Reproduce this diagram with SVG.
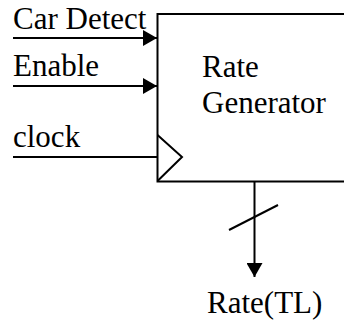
<svg xmlns="http://www.w3.org/2000/svg" width="344" height="328" viewBox="0 0 344 328">
<style>
text{font-family:"Liberation Serif","DejaVu Serif",serif;font-size:31px;fill:#000}
.ln{stroke:#000;stroke-width:2;fill:none}
</style>
<defs>
<marker id="ah" markerWidth="14" markerHeight="16" refX="14" refY="8" orient="auto" markerUnits="userSpaceOnUse">
<path d="M0,0 L14,8 L0,16 Z" fill="#000"/>
</marker>
</defs>
<g id="rate-generator" font-family="Liberation Serif, DejaVu Serif, serif">
<rect x="157.5" y="14" width="200" height="167.5" class="ln"/>
<polyline points="157.5,135 182,157 157.5,181" class="ln"/>
<text x="202" y="77">Rate</text>
<text x="202" y="113">Generator</text>
</g>
<g id="labels" font-family="Liberation Serif, DejaVu Serif, serif">
<text x="13" y="29">Car Detect</text>
<text x="13" y="76">Enable</text>
<text x="13" y="147">clock</text>
<text x="207" y="313">Rate(TL)</text>
</g>
<g id="connectors">
<line x1="13" y1="38" x2="157" y2="38" class="ln" marker-end="url(#ah)"/>
<line x1="13" y1="86" x2="157" y2="86" class="ln" marker-end="url(#ah)"/>
<line x1="13" y1="157" x2="157" y2="157" class="ln"/>
<line x1="254.5" y1="182" x2="254.5" y2="277" class="ln" marker-end="url(#ah)"/>
<line x1="229" y1="230" x2="278" y2="205" class="ln"/>
</g>
</svg>
